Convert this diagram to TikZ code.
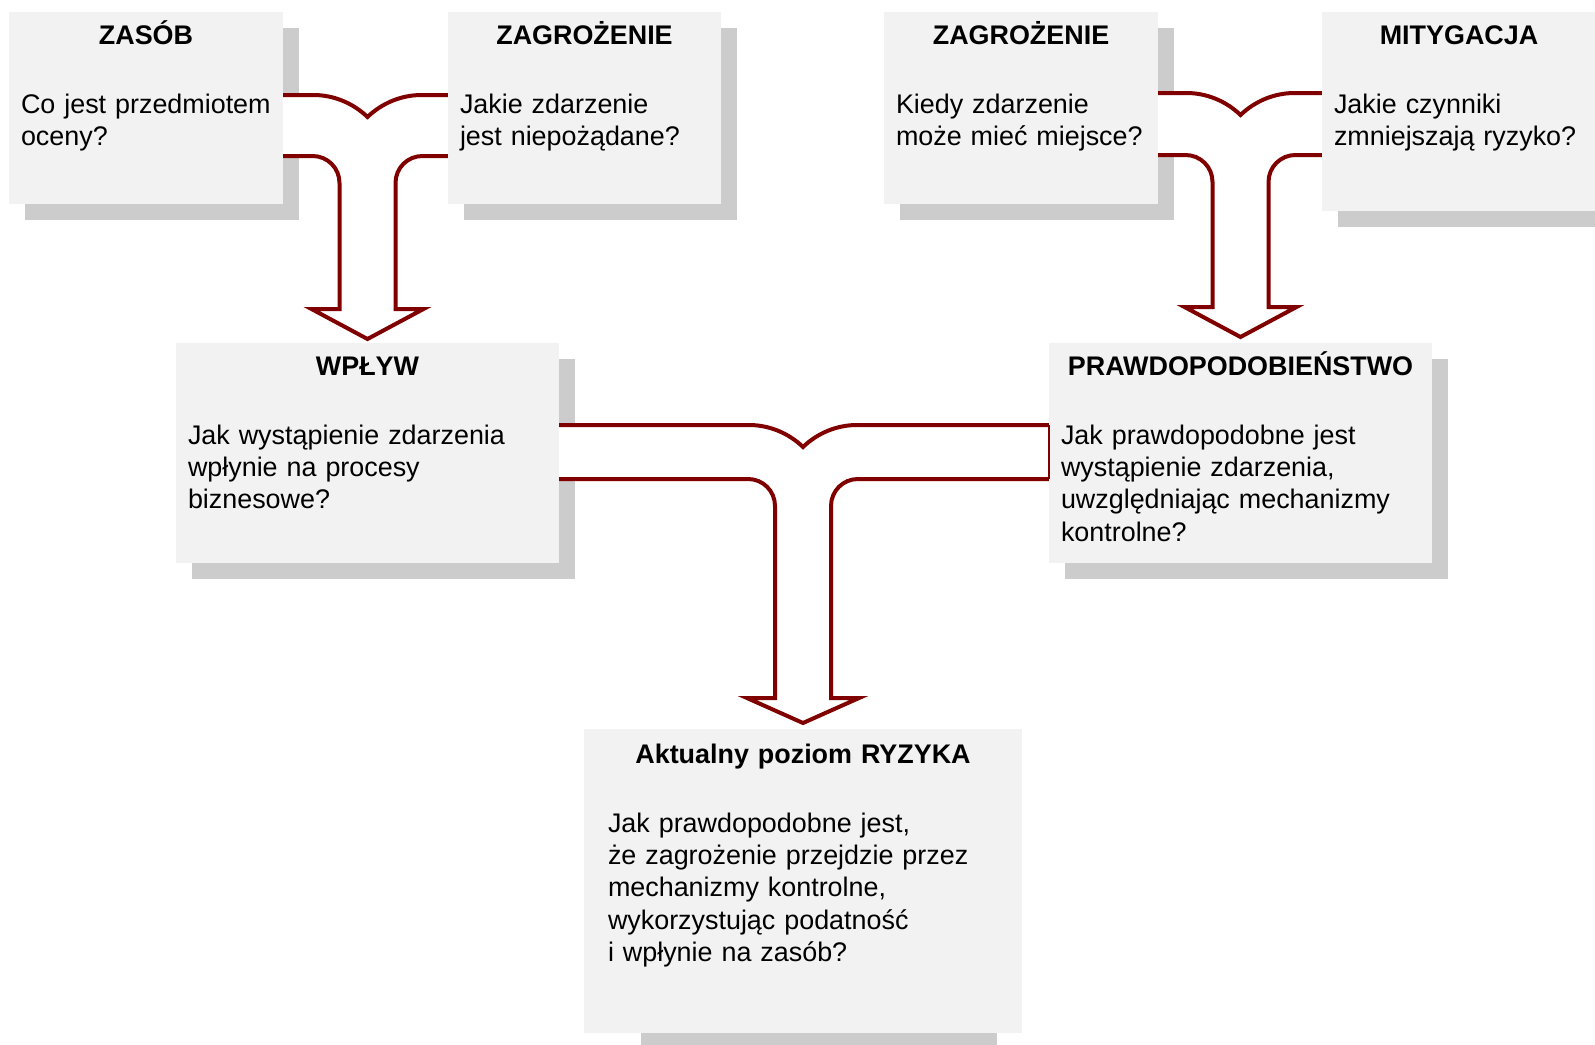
\documentclass[tikz,border=0pt]{standalone}
\usepackage{fontspec}
\setmainfont{Liberation Sans}
\usetikzlibrary{calc}

\definecolor{boxgray}{HTML}{F2F2F2}
\definecolor{shadowgray}{HTML}{CCCCCC}
\definecolor{flowred}{HTML}{800000}

\pgfdeclarelayer{shadowlayer}
\pgfdeclarelayer{flowlayer}
\pgfsetlayers{shadowlayer,flowlayer,main}

\newcommand{\boxhead}[1]{{\centering\bfseries #1\par}\vspace{18.3pt}}

\begin{document}
\begin{tikzpicture}
[
    x=0.5pt, y=-0.5pt,
    box/.style={rectangle, fill=boxgray, anchor=north west, inner xsep=6pt,
        inner ysep=0pt, outer sep=0pt, text height=16pt, align=left,
        font=\fontsize{13.45pt}{16.2pt}\selectfont},
    shadowbox/.style={fill=shadowgray},
    bigarrow/.style={draw=flowred, fill=white, line width=2pt},
]
\useasboundingbox (0,0) rectangle (1595,1044);

% top row
\node [box, text width=125pt, text depth=80pt] (zasob) at (9,12)
{\boxhead{ZASÓB}Co jest przedmiotem\\oceny?};
\node [box, text width=124.5pt, text depth=80pt] (zagra) at (448,12)
{\boxhead{ZAGROŻENIE}Jakie zdarzenie\\jest niepożądane?};
\node [box, text width=125pt, text depth=80pt] (zagrb) at (884,12)
{\boxhead{ZAGROŻENIE}Kiedy zdarzenie\\może mieć miejsce?};
\node [box, text width=125pt, text depth=83.5pt] (mityg) at (1322,12)
{\boxhead{MITYGACJA}Jakie czynniki\\zmniejszają ryzyko?};

% middle row
\node [box, text width=179.5pt, text depth=94pt] (wplyw) at (176,343)
{\boxhead{WPŁYW}Jak wystąpienie zdarzenia\\wpłynie na procesy\\biznesowe?};
\node [box, text width=179.5pt, text depth=94pt] (prawd) at (1049,343)
{\boxhead{PRAWDOPODOBIEŃSTWO}Jak prawdopodobne jest\\wystąpienie zdarzenia,\\uwzględniając mechanizmy\\kontrolne?};

% result
\node [box, inner xsep=12pt, text width=195pt, text height=17pt, text depth=135pt] (ryzyko) at (584,729)
{\boxhead{Aktualny poziom RYZYKA}Jak prawdopodobne jest,\\że zagrożenie przejdzie przez\\mechanizmy kontrolne,\\wykorzystując podatność\\i wpłynie na zasób?};

\begin{pgfonlayer}{shadowlayer}
\fill[white] (0,0) rectangle (1595,1044);
\foreach \bx in {zasob,zagra,zagrb,mityg,wplyw,prawd}
    \fill[shadowbox] ($(\bx.north west)+(16,16)$) rectangle ($(\bx.south east)+(16,16)$);
\fill[shadowbox] ($(ryzyko.north west)+(57,16)$) rectangle ($(ryzyko.south east)+(-25,16)$);
\end{pgfonlayer}

\begin{pgfonlayer}{flowlayer}
\foreach \srca/\srcb/\dst/\ytop/\band/\yhead/\ytip in
    {zasob/zagra/wplyw/95/61/214/244,
     zagrb/mityg/prawd/93/62/214/244,
     wplyw/prawd/ryzyko/425/54/273/298}
{
    \coordinate (\dst-c) at (\dst.north |- 0,\ytop);
    \coordinate (\dst-l) at ($(\srca.east |- \dst-c)+(-4,0)$);
    \coordinate (\dst-r) at ($(\srcb.west |- \dst-c)+(4,0)$);
    \begin{scope}[shift={(\dst-c)}]
    \draw[bigarrow] (\dst-l) -- (-54,0) .. controls (-34,0) and (-14.5,8) .. (0,22)
        .. controls (14.5,8) and (34,0) .. (54,0) -- (\dst-r) -- ++(0,\band)
        -- (55,\band) .. controls (40,\band) and (28,\band+12) .. (28,\band+27)
        -- (28,\yhead) -- (56,\yhead) -- (0,\ytip) -- (-56,\yhead) -- (-28,\yhead)
        -- (-28,\band+27) .. controls (-28,\band+12) and (-40,\band) .. (-55,\band)
        -- (\dst-l |- 0,\band) -- cycle;
    \end{scope}
}
\end{pgfonlayer}

\draw[flowred, line width=0.75pt] (prawd.west |- ryzyko-c) -- ++(0,54);
\end{tikzpicture}
\end{document}
